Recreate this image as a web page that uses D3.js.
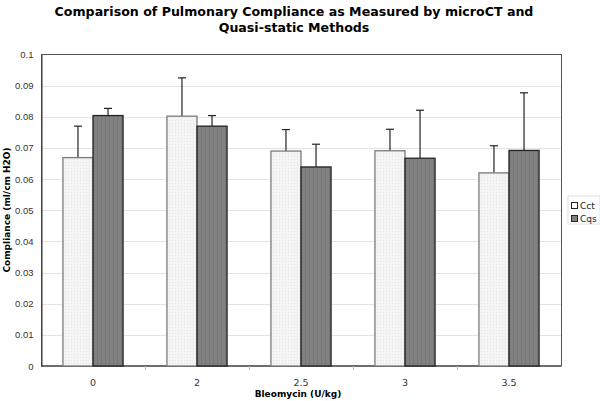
<!DOCTYPE html>
<meta charset="utf-8">
<style>
body { margin: 0; background: #fff; }
svg { font-family: "DejaVu Sans", Verdana, sans-serif; }
.grid line { stroke: #e3e3e3; }
.axis text { font-size: 9.5px; fill: #333; }
</style>
<body>
<script src="https://d3js.org/d3.v7.min.js"></script>
<script>

var doses = ["0", "2", "2.5", "3", "3.5"];
var cct = [0.0669, 0.0802, 0.0690, 0.0691, 0.0620];
var cctErr = [0.0101, 0.0123, 0.0069, 0.0069, 0.0087];
var cqs = [0.0804, 0.0770, 0.0639, 0.0667, 0.0692];
var cqsErr = [0.0023, 0.0034, 0.0073, 0.0154, 0.0185];
var seriesNames = ["Cct", "Cqs"];
var yTicks = [0, 0.01, 0.02, 0.03, 0.04, 0.05, 0.06, 0.07, 0.08, 0.09, 0.1];

var width = 600, height = 401;
var margin = {top: 54.5, right: 39, bottom: 35, left: 41};

var svg = d3.select("body").append("svg")
    .attr("width", width)
    .attr("height", height);

var defs = svg.append("defs");
var dots = defs.append("pattern")
    .attr("id", "dots")
    .attr("width", 3).attr("height", 3)
    .attr("patternUnits", "userSpaceOnUse");
dots.append("rect").attr("width", 3).attr("height", 3).attr("fill", "#f4f4f4");
dots.append("rect").attr("width", 1).attr("height", 1).attr("fill", "#e4e4e4");

var stripes = defs.append("pattern")
    .attr("id", "stripes")
    .attr("width", 4).attr("height", 4)
    .attr("patternUnits", "userSpaceOnUse");
stripes.append("rect").attr("width", 4).attr("height", 4).attr("fill", "#818181");
stripes.append("rect").attr("width", 1).attr("height", 4).attr("fill", "#777");

var fills = ["url(#dots)", "url(#stripes)"];
var strokes = ["#7a7a7a", "#222"];

var x0 = d3.scaleBand()
    .domain(doses)
    .range([margin.left, width - margin.right]);

var x1 = d3.scaleBand()
    .domain(seriesNames)
    .range([0, x0.bandwidth()])
    .paddingOuter(0.73)
    .paddingInner(0);

var y = d3.scaleLinear()
    .domain([0, 0.1])
    .range([height - margin.bottom, margin.top]);

// title
svg.append("text")
    .attr("x", 294).attr("y", 16)
    .attr("text-anchor", "middle")
    .style("font-size", "12.6px").style("font-weight", "bold")
    .text("Comparison of Pulmonary Compliance as Measured by microCT and");
svg.append("text")
    .attr("x", 294).attr("y", 32)
    .attr("text-anchor", "middle")
    .style("font-size", "12.6px").style("font-weight", "bold")
    .text("Quasi-static Methods");

// gridlines
svg.append("g").attr("class", "grid")
  .selectAll("line")
  .data(yTicks.slice(1, -1))
  .enter().append("line")
    .attr("x1", margin.left).attr("x2", width - margin.right)
    .attr("y1", function(d) { return Math.round(y(d)) + 0.5; })
    .attr("y2", function(d) { return Math.round(y(d)) + 0.5; });

// plot frame
svg.append("rect")
    .attr("x", margin.left + 0.5).attr("y", margin.top)
    .attr("width", width - margin.left - margin.right)
    .attr("height", height - margin.top - margin.bottom)
    .attr("fill", "none")
    .attr("stroke", "#555")
    .attr("stroke-width", 1);

// y axis
var yAxis = svg.append("g")
    .attr("class", "axis")
    .attr("transform", "translate(" + (margin.left + 0.5) + ",0)")
    .call(d3.axisLeft(y).tickValues(yTicks).tickFormat(function(d) { return String(+d.toFixed(2)); }).tickSize(0).tickPadding(8));
yAxis.select(".domain").attr("stroke", "#333");

// x axis: ticks at group boundaries, labels at centres
var xg = svg.append("g")
    .attr("class", "axis")
    .attr("transform", "translate(0," + (height - margin.bottom) + ")");
xg.append("line")
    .attr("x1", margin.left).attr("x2", width - margin.right)
    .attr("stroke", "#333");
xg.selectAll(".tk")
  .data(doses.slice(1))
  .enter().append("line")
    .attr("class", "tk")
    .attr("x1", function(d) { return Math.round(x0(d)) + 0.5; })
    .attr("x2", function(d) { return Math.round(x0(d)) + 0.5; })
    .attr("y1", 0).attr("y2", 4)
    .attr("stroke", "#bbb");
xg.selectAll("text")
  .data(doses)
  .enter().append("text")
    .attr("x", function(d) { return x0(d) + x0.bandwidth() / 2; })
    .attr("y", 20)
    .attr("text-anchor", "middle")
    .text(function(d) { return d; });

svg.append("text")
    .attr("x", 298).attr("y", 397)
    .attr("text-anchor", "middle")
    .style("font-size", "9px").style("font-weight", "bold")
    .text("Bleomycin (U/kg)");

svg.append("text")
    .attr("transform", "translate(10," + 210 + ") rotate(-90)")
    .attr("text-anchor", "middle")
    .style("font-size", "9px").style("font-weight", "bold")
    .text("Compliance (ml/cm H2O)");

// bars
var rows = doses.map(function(d, i) {
  return {dose: d, values: [
    {name: "Cct", v: cct[i], e: cctErr[i], k: 0},
    {name: "Cqs", v: cqs[i], e: cqsErr[i], k: 1}
  ]};
});

var groups = svg.append("g")
  .selectAll("g")
  .data(rows)
  .enter().append("g")
    .attr("transform", function(d) { return "translate(" + x0(d.dose) + ",0)"; });

var items = groups.selectAll("g")
  .data(function(d) { return d.values; })
  .enter().append("g");

items.append("line")
    .attr("x1", function(d) { return x1(d.name) + x1.bandwidth() / 2; })
    .attr("x2", function(d) { return x1(d.name) + x1.bandwidth() / 2; })
    .attr("y1", function(d) { return y(d.v); })
    .attr("y2", function(d) { return y(d.v + d.e); })
    .attr("stroke", "#222").attr("stroke-width", 1.2);
items.append("line")
    .attr("x1", function(d) { return x1(d.name) + x1.bandwidth() / 2 - 4; })
    .attr("x2", function(d) { return x1(d.name) + x1.bandwidth() / 2 + 4; })
    .attr("y1", function(d) { return y(d.v + d.e); })
    .attr("y2", function(d) { return y(d.v + d.e); })
    .attr("stroke", "#222").attr("stroke-width", 1.2);

items.append("rect")
    .attr("x", function(d) { return x1(d.name); })
    .attr("y", function(d) { return y(d.v); })
    .attr("width", x1.bandwidth())
    .attr("height", function(d) { return y(0) - y(d.v); })
    .attr("fill", function(d) { return fills[d.k]; })
    .attr("stroke", function(d) { return strokes[d.k]; })
    .attr("stroke-width", 1.3);

// legend
var legend = svg.append("g").attr("transform", "translate(568,196)");
legend.append("rect")
    .attr("width", 32).attr("height", 28)
    .attr("fill", "#fff").attr("stroke", "#e0e0e0");
seriesNames.forEach(function(n, i) {
  legend.append("rect")
      .attr("x", 3.5).attr("y", 6.5 + i * 13)
      .attr("width", 6).attr("height", 6)
      .attr("fill", i ? "#808080" : "#fff")
      .attr("stroke", "#222");
  legend.append("text")
      .attr("x", 12).attr("y", 13 + i * 13)
      .style("font-size", "9px").attr("fill", "#222")
      .text(n);
});

</script>
</body>
